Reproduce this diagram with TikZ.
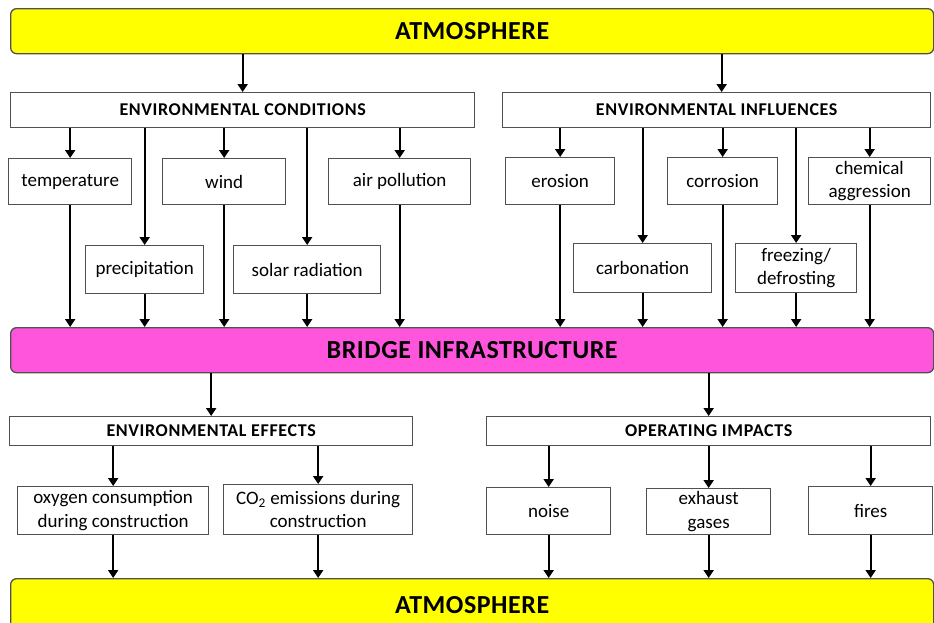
\documentclass[tikz,border=0pt]{standalone}
\usepackage{fontspec}
\setmainfont{Carlito}
\usetikzlibrary{arrows.meta}
\definecolor{barY}{RGB}{255,255,0}
\definecolor{barP}{RGB}{255,85,221}
\definecolor{edge}{RGB}{80,80,80}
\begin{document}
\begin{tikzpicture}[x=1pt,y=-1pt,
 box/.style={draw=edge, line width=1.3pt, fill=white, rectangle, inner sep=0pt, anchor=north west, align=center, font=\fontsize{19}{23.5}\selectfont},
 hdr/.style={box, font=\bfseries\fontsize{18}{20}\selectfont\addfontfeatures{LetterSpace=3.5}},
 bar/.style={draw=edge, line width=1.3pt, rectangle, rounded corners=6pt, inner sep=0pt, anchor=north west, font=\bfseries\fontsize{26}{30}\selectfont\addfontfeatures{LetterSpace=2}},
 arr/.style={line width=2pt, -{Triangle[width=10pt,length=8pt]}}]
\clip (0,0) rectangle (934,622);
\fill[white] (0,0) rectangle (934,622);
% bars
\node[bar, fill=barY, minimum width=923pt, minimum height=45pt] (top) at (10,8) {ATMOSPHERE};
\node[bar, fill=barP, minimum width=923pt, minimum height=45pt] (bridge) at (10,327) {BRIDGE INFRASTRUCTURE};
\node[bar, fill=barY, minimum width=923pt, minimum height=52pt] (bot) at (10,578) {ATMOSPHERE};
% headers
\node[hdr, minimum width=464pt, minimum height=35pt] (cond) at (10,92) {ENVIRONMENTAL CONDITIONS};
\node[hdr, minimum width=428pt, minimum height=35pt] (infl) at (502,92) {ENVIRONMENTAL INFLUENCES};
\node[hdr, minimum width=403pt, minimum height=29pt] (eff) at (9,416) {ENVIRONMENTAL EFFECTS};
\node[hdr, minimum width=444pt, minimum height=29pt] (oper) at (486,416) {OPERATING IMPACTS};
\coordinate (inflin) at ([xshift=5pt]infl.north);
% conditions
\node[box, minimum width=123pt, minimum height=46pt] (temp) at (8,158) {temperature};
\node[box, minimum width=123pt, minimum height=46pt] (wind) at (162,158) {wind};
\node[box, minimum width=142pt, minimum height=46pt] (air) at (328,158) {air pollution};
\node[box, minimum width=118pt, minimum height=48pt] (prec) at (85,245) {precipitation};
\node[box, minimum width=147pt, minimum height=48pt] (solar) at (233,245) {solar radiation};
% influences
\node[box, minimum width=109pt, minimum height=47pt] (eros) at (505,157) {erosion};
\node[box, minimum width=110pt, minimum height=47pt] (corr) at (667,157) {corrosion};
\node[box, minimum width=122pt, minimum height=47pt] (chem) at (808,157) {chemical\\aggression};
\node[box, minimum width=138pt, minimum height=49pt] (carb) at (573,243) {carbonation};
\node[box, minimum width=121pt, minimum height=49pt] (frz) at (735,243) {freezing/\\defrosting};
% effects
\node[box, minimum width=191pt, minimum height=48pt] (oxy) at (17,486) {oxygen consumption\\during construction};
\node[box, minimum width=189pt, minimum height=50pt] (co2) at (223,484) {CO\textsubscript{2} emissions during\\construction};
% operating
\node[box, minimum width=124pt, minimum height=47pt] (noise) at (486,487) {noise};
\node[box, minimum width=124pt, minimum height=46pt] (exh) at (646,488) {exhaust\\gases};
\node[box, minimum width=124pt, minimum height=48pt] (fire) at (808,486) {fires};
% arrows
\draw[arr] (top.south -| cond.north) -- (cond.north);
\draw[arr] (top.south -| inflin) -- (inflin);
\foreach \n in {temp,wind,air,prec,solar}{
  \draw[arr] (cond.south -| \n.north) -- (\n.north);
  \draw[arr] (\n.south) -- (\n.south |- bridge.north);
}
\foreach \n in {eros,corr,chem,carb,frz}{
  \draw[arr] (infl.south -| \n.north) -- (\n.north);
  \draw[arr] (\n.south) -- (\n.south |- bridge.north);
}
\draw[arr] (bridge.south -| eff.north) -- (eff.north);
\draw[arr] (bridge.south -| oper.north) -- (oper.north);
\foreach \n in {oxy,co2}{
  \draw[arr] (eff.south -| \n.north) -- (\n.north);
  \draw[arr] (\n.south) -- (\n.south |- bot.north);
}
\foreach \n in {noise,exh,fire}{
  \draw[arr] (oper.south -| \n.north) -- (\n.north);
  \draw[arr] (\n.south) -- (\n.south |- bot.north);
}
\end{tikzpicture}
\end{document}
